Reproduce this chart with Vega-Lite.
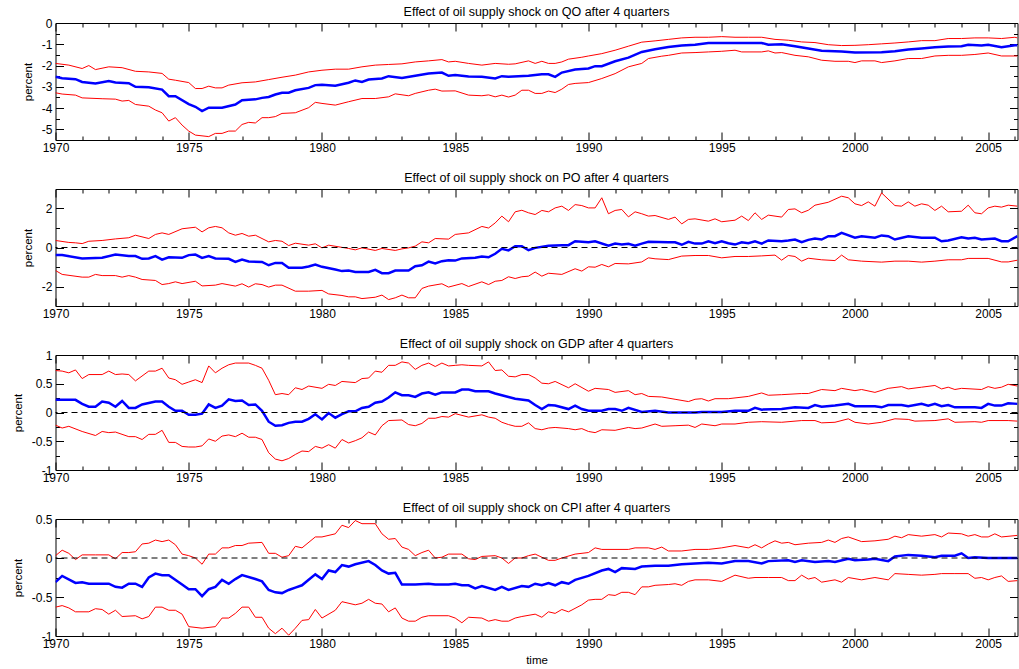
{
"$schema":"https://vega.github.io/schema/vega-lite/v6.json",
"background":"white",
"padding":{"left":11.5,"top":5,"right":0,"bottom":0},
"config":{
 "font":"Liberation Sans",
 "view":{"stroke":"black","strokeWidth":1},
 "axis":{"grid":false,"domain":false,"labelFont":"Liberation Sans","labelFontSize":12,"labelColor":"black","titleFont":"Liberation Sans","titleFontSize":11.5,"titleFontWeight":"normal","titleColor":"black","tickColor":"black","tickWidth":1,"labelOverlap":false,"labelFlush":false},
 "title":{"font":"Liberation Sans","fontSize":12.5,"fontWeight":"normal","color":"black","offset":-1}
},
"spacing":49,
"bounds":"flush",
"data":{"values":[
{"p":"QO","s":"h","t":1970,"v":-1.9},{"p":"QO","s":"h","t":1970.5,"v":-1.98},{"p":"QO","s":"h","t":1971,"v":-2.14},{"p":"QO","s":"h","t":1971.25,"v":-2.0},{"p":"QO","s":"h","t":1971.5,"v":-2.19},{"p":"QO","s":"h","t":1972,"v":-2.06},{"p":"QO","s":"h","t":1972.5,"v":-2.1},{"p":"QO","s":"h","t":1973,"v":-2.27},{"p":"QO","s":"h","t":1973.5,"v":-2.3},{"p":"QO","s":"h","t":1974,"v":-2.37},{"p":"QO","s":"h","t":1974.25,"v":-2.64},{"p":"QO","s":"h","t":1974.5,"v":-2.69},{"p":"QO","s":"h","t":1975,"v":-2.8},{"p":"QO","s":"h","t":1975.25,"v":-3.08},{"p":"QO","s":"h","t":1975.5,"v":-3.08},{"p":"QO","s":"h","t":1975.75,"v":-2.97},{"p":"QO","s":"h","t":1976,"v":-3.05},{"p":"QO","s":"h","t":1976.25,"v":-3.05},{"p":"QO","s":"h","t":1976.5,"v":-2.92},{"p":"QO","s":"h","t":1977,"v":-2.81},{"p":"QO","s":"h","t":1977.5,"v":-2.77},{"p":"QO","s":"h","t":1978,"v":-2.66},{"p":"QO","s":"h","t":1978.5,"v":-2.55},{"p":"QO","s":"h","t":1979,"v":-2.45},{"p":"QO","s":"h","t":1979.5,"v":-2.3},{"p":"QO","s":"h","t":1980,"v":-2.22},{"p":"QO","s":"h","t":1980.5,"v":-2.17},{"p":"QO","s":"h","t":1981,"v":-2.17},{"p":"QO","s":"h","t":1981.5,"v":-2.06},{"p":"QO","s":"h","t":1982,"v":-1.98},{"p":"QO","s":"h","t":1982.5,"v":-1.95},{"p":"QO","s":"h","t":1983,"v":-1.92},{"p":"QO","s":"h","t":1983.5,"v":-1.83},{"p":"QO","s":"h","t":1984,"v":-1.78},{"p":"QO","s":"h","t":1984.5,"v":-1.72},{"p":"QO","s":"h","t":1984.75,"v":-1.83},{"p":"QO","s":"h","t":1985,"v":-1.8},{"p":"QO","s":"h","t":1985.5,"v":-1.9},{"p":"QO","s":"h","t":1986,"v":-1.98},{"p":"QO","s":"h","t":1986.5,"v":-1.9},{"p":"QO","s":"h","t":1987,"v":-1.94},{"p":"QO","s":"h","t":1987.25,"v":-1.92},{"p":"QO","s":"h","t":1987.75,"v":-1.78},{"p":"QO","s":"h","t":1988,"v":-1.9},{"p":"QO","s":"h","t":1988.25,"v":-1.8},{"p":"QO","s":"h","t":1988.5,"v":-1.9},{"p":"QO","s":"h","t":1988.75,"v":-1.9},{"p":"QO","s":"h","t":1989,"v":-1.83},{"p":"QO","s":"h","t":1989.25,"v":-1.7},{"p":"QO","s":"h","t":1989.75,"v":-1.61},{"p":"QO","s":"h","t":1990,"v":-1.55},{"p":"QO","s":"h","t":1990.5,"v":-1.44},{"p":"QO","s":"h","t":1991,"v":-1.28},{"p":"QO","s":"h","t":1991.5,"v":-1.09},{"p":"QO","s":"h","t":1992,"v":-0.9},{"p":"QO","s":"h","t":1992.5,"v":-0.84},{"p":"QO","s":"h","t":1993,"v":-0.77},{"p":"QO","s":"h","t":1993.5,"v":-0.7},{"p":"QO","s":"h","t":1994,"v":-0.67},{"p":"QO","s":"h","t":1994.5,"v":-0.67},{"p":"QO","s":"h","t":1995,"v":-0.64},{"p":"QO","s":"h","t":1995.5,"v":-0.67},{"p":"QO","s":"h","t":1996,"v":-0.67},{"p":"QO","s":"h","t":1996.5,"v":-0.67},{"p":"QO","s":"h","t":1997,"v":-0.77},{"p":"QO","s":"h","t":1997.5,"v":-0.81},{"p":"QO","s":"h","t":1998,"v":-0.89},{"p":"QO","s":"h","t":1998.5,"v":-0.92},{"p":"QO","s":"h","t":1999,"v":-1.02},{"p":"QO","s":"h","t":1999.5,"v":-1.06},{"p":"QO","s":"h","t":2000,"v":-1.05},{"p":"QO","s":"h","t":2000.5,"v":-1.02},{"p":"QO","s":"h","t":2001,"v":-0.98},{"p":"QO","s":"h","t":2001.5,"v":-0.94},{"p":"QO","s":"h","t":2002,"v":-0.89},{"p":"QO","s":"h","t":2002.5,"v":-0.83},{"p":"QO","s":"h","t":2003,"v":-0.83},{"p":"QO","s":"h","t":2003.5,"v":-0.73},{"p":"QO","s":"h","t":2004,"v":-0.73},{"p":"QO","s":"h","t":2004.5,"v":-0.7},{"p":"QO","s":"h","t":2005,"v":-0.7},{"p":"QO","s":"h","t":2005.5,"v":-0.73},{"p":"QO","s":"h","t":2006,"v":-0.67},{"p":"QO","s":"h","t":2006.1,"v":-0.7},
{"p":"QO","s":"m","t":1970,"v":-2.53},{"p":"QO","s":"m","t":1970.25,"v":-2.6},{"p":"QO","s":"m","t":1970.75,"v":-2.64},{"p":"QO","s":"m","t":1971,"v":-2.77},{"p":"QO","s":"m","t":1971.5,"v":-2.84},{"p":"QO","s":"m","t":1972,"v":-2.73},{"p":"QO","s":"m","t":1972.25,"v":-2.8},{"p":"QO","s":"m","t":1972.75,"v":-2.83},{"p":"QO","s":"m","t":1973,"v":-3.0},{"p":"QO","s":"m","t":1973.5,"v":-3.02},{"p":"QO","s":"m","t":1974,"v":-3.13},{"p":"QO","s":"m","t":1974.25,"v":-3.44},{"p":"QO","s":"m","t":1974.5,"v":-3.44},{"p":"QO","s":"m","t":1975,"v":-3.81},{"p":"QO","s":"m","t":1975.25,"v":-3.94},{"p":"QO","s":"m","t":1975.5,"v":-4.14},{"p":"QO","s":"m","t":1975.75,"v":-3.98},{"p":"QO","s":"m","t":1976.25,"v":-3.98},{"p":"QO","s":"m","t":1976.75,"v":-3.83},{"p":"QO","s":"m","t":1977,"v":-3.63},{"p":"QO","s":"m","t":1977.5,"v":-3.59},{"p":"QO","s":"m","t":1977.75,"v":-3.52},{"p":"QO","s":"m","t":1978,"v":-3.48},{"p":"QO","s":"m","t":1978.25,"v":-3.36},{"p":"QO","s":"m","t":1978.5,"v":-3.28},{"p":"QO","s":"m","t":1978.75,"v":-3.28},{"p":"QO","s":"m","t":1979,"v":-3.16},{"p":"QO","s":"m","t":1979.5,"v":-3.05},{"p":"QO","s":"m","t":1979.75,"v":-2.92},{"p":"QO","s":"m","t":1980,"v":-2.9},{"p":"QO","s":"m","t":1980.5,"v":-2.95},{"p":"QO","s":"m","t":1981,"v":-2.81},{"p":"QO","s":"m","t":1981.25,"v":-2.7},{"p":"QO","s":"m","t":1981.5,"v":-2.77},{"p":"QO","s":"m","t":1981.75,"v":-2.66},{"p":"QO","s":"m","t":1982.25,"v":-2.61},{"p":"QO","s":"m","t":1982.5,"v":-2.5},{"p":"QO","s":"m","t":1983,"v":-2.58},{"p":"QO","s":"m","t":1983.5,"v":-2.48},{"p":"QO","s":"m","t":1984,"v":-2.37},{"p":"QO","s":"m","t":1984.5,"v":-2.33},{"p":"QO","s":"m","t":1984.75,"v":-2.48},{"p":"QO","s":"m","t":1985,"v":-2.45},{"p":"QO","s":"m","t":1985.5,"v":-2.52},{"p":"QO","s":"m","t":1986,"v":-2.53},{"p":"QO","s":"m","t":1986.5,"v":-2.61},{"p":"QO","s":"m","t":1986.75,"v":-2.5},{"p":"QO","s":"m","t":1987,"v":-2.53},{"p":"QO","s":"m","t":1987.75,"v":-2.48},{"p":"QO","s":"m","t":1988.25,"v":-2.41},{"p":"QO","s":"m","t":1988.5,"v":-2.41},{"p":"QO","s":"m","t":1988.75,"v":-2.53},{"p":"QO","s":"m","t":1989,"v":-2.33},{"p":"QO","s":"m","t":1989.5,"v":-2.19},{"p":"QO","s":"m","t":1990,"v":-2.14},{"p":"QO","s":"m","t":1990.25,"v":-2.03},{"p":"QO","s":"m","t":1990.5,"v":-2.03},{"p":"QO","s":"m","t":1991,"v":-1.8},{"p":"QO","s":"m","t":1991.5,"v":-1.63},{"p":"QO","s":"m","t":1992,"v":-1.36},{"p":"QO","s":"m","t":1992.5,"v":-1.23},{"p":"QO","s":"m","t":1993,"v":-1.13},{"p":"QO","s":"m","t":1993.5,"v":-1.06},{"p":"QO","s":"m","t":1994,"v":-1.02},{"p":"QO","s":"m","t":1994.5,"v":-0.94},{"p":"QO","s":"m","t":1995,"v":-0.94},{"p":"QO","s":"m","t":1996,"v":-0.94},{"p":"QO","s":"m","t":1996.5,"v":-0.94},{"p":"QO","s":"m","t":1996.75,"v":-1.02},{"p":"QO","s":"m","t":1997.25,"v":-1.0},{"p":"QO","s":"m","t":1997.75,"v":-1.09},{"p":"QO","s":"m","t":1998.25,"v":-1.2},{"p":"QO","s":"m","t":1998.75,"v":-1.3},{"p":"QO","s":"m","t":1999.5,"v":-1.34},{"p":"QO","s":"m","t":2000,"v":-1.39},{"p":"QO","s":"m","t":2001,"v":-1.38},{"p":"QO","s":"m","t":2001.5,"v":-1.33},{"p":"QO","s":"m","t":2002,"v":-1.25},{"p":"QO","s":"m","t":2002.5,"v":-1.2},{"p":"QO","s":"m","t":2003,"v":-1.14},{"p":"QO","s":"m","t":2003.5,"v":-1.11},{"p":"QO","s":"m","t":2004,"v":-1.09},{"p":"QO","s":"m","t":2004.25,"v":-1.02},{"p":"QO","s":"m","t":2004.75,"v":-1.06},{"p":"QO","s":"m","t":2005,"v":-1.02},{"p":"QO","s":"m","t":2005.5,"v":-1.14},{"p":"QO","s":"m","t":2006,"v":-1.05},{"p":"QO","s":"m","t":2006.1,"v":-1.05},
{"p":"QO","s":"l","t":1970,"v":-3.28},{"p":"QO","s":"l","t":1970.25,"v":-3.34},{"p":"QO","s":"l","t":1970.75,"v":-3.39},{"p":"QO","s":"l","t":1971,"v":-3.52},{"p":"QO","s":"l","t":1971.75,"v":-3.56},{"p":"QO","s":"l","t":1972.25,"v":-3.58},{"p":"QO","s":"l","t":1972.5,"v":-3.67},{"p":"QO","s":"l","t":1972.75,"v":-3.64},{"p":"QO","s":"l","t":1973,"v":-3.83},{"p":"QO","s":"l","t":1973.5,"v":-3.91},{"p":"QO","s":"l","t":1973.75,"v":-4.09},{"p":"QO","s":"l","t":1974,"v":-4.22},{"p":"QO","s":"l","t":1974.25,"v":-4.61},{"p":"QO","s":"l","t":1974.5,"v":-4.45},{"p":"QO","s":"l","t":1974.75,"v":-4.8},{"p":"QO","s":"l","t":1975,"v":-5.08},{"p":"QO","s":"l","t":1975.25,"v":-5.27},{"p":"QO","s":"l","t":1975.75,"v":-5.34},{"p":"QO","s":"l","t":1976,"v":-5.19},{"p":"QO","s":"l","t":1976.25,"v":-5.19},{"p":"QO","s":"l","t":1976.5,"v":-5.08},{"p":"QO","s":"l","t":1976.75,"v":-5.08},{"p":"QO","s":"l","t":1977,"v":-4.77},{"p":"QO","s":"l","t":1977.25,"v":-4.67},{"p":"QO","s":"l","t":1977.5,"v":-4.7},{"p":"QO","s":"l","t":1977.75,"v":-4.45},{"p":"QO","s":"l","t":1978,"v":-4.45},{"p":"QO","s":"l","t":1978.25,"v":-4.4},{"p":"QO","s":"l","t":1978.5,"v":-4.25},{"p":"QO","s":"l","t":1979,"v":-4.22},{"p":"QO","s":"l","t":1979.5,"v":-3.98},{"p":"QO","s":"l","t":1979.75,"v":-3.73},{"p":"QO","s":"l","t":1980,"v":-3.78},{"p":"QO","s":"l","t":1980.5,"v":-3.86},{"p":"QO","s":"l","t":1981,"v":-3.7},{"p":"QO","s":"l","t":1981.5,"v":-3.55},{"p":"QO","s":"l","t":1982,"v":-3.55},{"p":"QO","s":"l","t":1982.5,"v":-3.47},{"p":"QO","s":"l","t":1982.75,"v":-3.33},{"p":"QO","s":"l","t":1983.25,"v":-3.42},{"p":"QO","s":"l","t":1983.5,"v":-3.31},{"p":"QO","s":"l","t":1984,"v":-3.16},{"p":"QO","s":"l","t":1984.25,"v":-3.11},{"p":"QO","s":"l","t":1984.5,"v":-3.2},{"p":"QO","s":"l","t":1985,"v":-3.19},{"p":"QO","s":"l","t":1985.5,"v":-3.39},{"p":"QO","s":"l","t":1986,"v":-3.42},{"p":"QO","s":"l","t":1986.25,"v":-3.38},{"p":"QO","s":"l","t":1986.5,"v":-3.47},{"p":"QO","s":"l","t":1986.75,"v":-3.39},{"p":"QO","s":"l","t":1987,"v":-3.48},{"p":"QO","s":"l","t":1987.25,"v":-3.39},{"p":"QO","s":"l","t":1987.5,"v":-3.16},{"p":"QO","s":"l","t":1987.75,"v":-3.16},{"p":"QO","s":"l","t":1988,"v":-3.31},{"p":"QO","s":"l","t":1988.25,"v":-3.31},{"p":"QO","s":"l","t":1988.5,"v":-3.2},{"p":"QO","s":"l","t":1988.75,"v":-3.27},{"p":"QO","s":"l","t":1989,"v":-3.11},{"p":"QO","s":"l","t":1989.25,"v":-2.89},{"p":"QO","s":"l","t":1989.5,"v":-2.84},{"p":"QO","s":"l","t":1990,"v":-2.8},{"p":"QO","s":"l","t":1990.5,"v":-2.61},{"p":"QO","s":"l","t":1991,"v":-2.38},{"p":"QO","s":"l","t":1991.5,"v":-2.06},{"p":"QO","s":"l","t":1992,"v":-1.9},{"p":"QO","s":"l","t":1992.25,"v":-1.67},{"p":"QO","s":"l","t":1992.75,"v":-1.56},{"p":"QO","s":"l","t":1993,"v":-1.52},{"p":"QO","s":"l","t":1993.5,"v":-1.41},{"p":"QO","s":"l","t":1994,"v":-1.39},{"p":"QO","s":"l","t":1994.5,"v":-1.36},{"p":"QO","s":"l","t":1995,"v":-1.33},{"p":"QO","s":"l","t":1995.5,"v":-1.28},{"p":"QO","s":"l","t":1995.75,"v":-1.36},{"p":"QO","s":"l","t":1996.5,"v":-1.36},{"p":"QO","s":"l","t":1996.75,"v":-1.31},{"p":"QO","s":"l","t":1997,"v":-1.41},{"p":"QO","s":"l","t":1997.25,"v":-1.39},{"p":"QO","s":"l","t":1997.75,"v":-1.52},{"p":"QO","s":"l","t":1998.25,"v":-1.59},{"p":"QO","s":"l","t":1998.75,"v":-1.75},{"p":"QO","s":"l","t":1999.25,"v":-1.8},{"p":"QO","s":"l","t":1999.75,"v":-1.8},{"p":"QO","s":"l","t":2000,"v":-1.86},{"p":"QO","s":"l","t":2000.25,"v":-1.78},{"p":"QO","s":"l","t":2000.75,"v":-1.78},{"p":"QO","s":"l","t":2001,"v":-1.86},{"p":"QO","s":"l","t":2001.5,"v":-1.78},{"p":"QO","s":"l","t":2002,"v":-1.67},{"p":"QO","s":"l","t":2002.5,"v":-1.67},{"p":"QO","s":"l","t":2003,"v":-1.55},{"p":"QO","s":"l","t":2003.5,"v":-1.52},{"p":"QO","s":"l","t":2004,"v":-1.52},{"p":"QO","s":"l","t":2004.5,"v":-1.48},{"p":"QO","s":"l","t":2005,"v":-1.41},{"p":"QO","s":"l","t":2005.5,"v":-1.55},{"p":"QO","s":"l","t":2006,"v":-1.55},{"p":"QO","s":"l","t":2006.1,"v":-1.55},
{"p":"PO","s":"h","t":1970,"v":0.36},{"p":"PO","s":"h","t":1970.5,"v":0.26},{"p":"PO","s":"h","t":1970.75,"v":0.24},{"p":"PO","s":"h","t":1971,"v":0.2},{"p":"PO","s":"h","t":1971.25,"v":0.32},{"p":"PO","s":"h","t":1971.75,"v":0.36},{"p":"PO","s":"h","t":1972.25,"v":0.44},{"p":"PO","s":"h","t":1972.75,"v":0.5},{"p":"PO","s":"h","t":1973,"v":0.63},{"p":"PO","s":"h","t":1973.5,"v":0.46},{"p":"PO","s":"h","t":1973.75,"v":0.67},{"p":"PO","s":"h","t":1974,"v":0.75},{"p":"PO","s":"h","t":1974.25,"v":0.67},{"p":"PO","s":"h","t":1974.75,"v":0.96},{"p":"PO","s":"h","t":1975.25,"v":1.04},{"p":"PO","s":"h","t":1975.5,"v":0.8},{"p":"PO","s":"h","t":1975.75,"v":1.01},{"p":"PO","s":"h","t":1976,"v":1.08},{"p":"PO","s":"h","t":1976.25,"v":1.01},{"p":"PO","s":"h","t":1976.5,"v":0.75},{"p":"PO","s":"h","t":1976.75,"v":0.63},{"p":"PO","s":"h","t":1977,"v":0.72},{"p":"PO","s":"h","t":1977.25,"v":0.58},{"p":"PO","s":"h","t":1977.5,"v":0.63},{"p":"PO","s":"h","t":1978,"v":0.29},{"p":"PO","s":"h","t":1978.25,"v":0.36},{"p":"PO","s":"h","t":1978.5,"v":0.32},{"p":"PO","s":"h","t":1978.75,"v":0.1},{"p":"PO","s":"h","t":1979,"v":0.22},{"p":"PO","s":"h","t":1979.5,"v":0.12},{"p":"PO","s":"h","t":1979.75,"v":0.19},{"p":"PO","s":"h","t":1980,"v":-0.02},{"p":"PO","s":"h","t":1980.25,"v":0.12},{"p":"PO","s":"h","t":1981,"v":-0.05},{"p":"PO","s":"h","t":1981.25,"v":-0.12},{"p":"PO","s":"h","t":1981.5,"v":-0.02},{"p":"PO","s":"h","t":1982,"v":-0.15},{"p":"PO","s":"h","t":1982.25,"v":-0.05},{"p":"PO","s":"h","t":1982.75,"v":-0.15},{"p":"PO","s":"h","t":1983,"v":-0.07},{"p":"PO","s":"h","t":1983.25,"v":-0.02},{"p":"PO","s":"h","t":1983.5,"v":0.07},{"p":"PO","s":"h","t":1983.75,"v":0.29},{"p":"PO","s":"h","t":1984,"v":0.24},{"p":"PO","s":"h","t":1984.25,"v":0.46},{"p":"PO","s":"h","t":1984.75,"v":0.43},{"p":"PO","s":"h","t":1985,"v":0.67},{"p":"PO","s":"h","t":1985.5,"v":0.75},{"p":"PO","s":"h","t":1986,"v":1.08},{"p":"PO","s":"h","t":1986.25,"v":1.0},{"p":"PO","s":"h","t":1986.5,"v":1.26},{"p":"PO","s":"h","t":1986.75,"v":1.61},{"p":"PO","s":"h","t":1987,"v":1.32},{"p":"PO","s":"h","t":1987.25,"v":1.83},{"p":"PO","s":"h","t":1987.5,"v":1.91},{"p":"PO","s":"h","t":1987.75,"v":1.78},{"p":"PO","s":"h","t":1988,"v":1.69},{"p":"PO","s":"h","t":1988.25,"v":1.9},{"p":"PO","s":"h","t":1988.5,"v":1.83},{"p":"PO","s":"h","t":1988.75,"v":2.03},{"p":"PO","s":"h","t":1989,"v":2.12},{"p":"PO","s":"h","t":1989.25,"v":1.9},{"p":"PO","s":"h","t":1989.5,"v":2.2},{"p":"PO","s":"h","t":1989.75,"v":2.15},{"p":"PO","s":"h","t":1990,"v":2.03},{"p":"PO","s":"h","t":1990.25,"v":2.03},{"p":"PO","s":"h","t":1990.5,"v":2.55},{"p":"PO","s":"h","t":1990.75,"v":1.73},{"p":"PO","s":"h","t":1991,"v":1.9},{"p":"PO","s":"h","t":1991.25,"v":1.95},{"p":"PO","s":"h","t":1991.5,"v":1.57},{"p":"PO","s":"h","t":1991.75,"v":1.83},{"p":"PO","s":"h","t":1992,"v":1.73},{"p":"PO","s":"h","t":1992.25,"v":1.61},{"p":"PO","s":"h","t":1992.5,"v":1.64},{"p":"PO","s":"h","t":1993,"v":1.44},{"p":"PO","s":"h","t":1993.25,"v":1.56},{"p":"PO","s":"h","t":1993.5,"v":1.21},{"p":"PO","s":"h","t":1993.75,"v":1.44},{"p":"PO","s":"h","t":1994,"v":1.47},{"p":"PO","s":"h","t":1994.5,"v":1.35},{"p":"PO","s":"h","t":1994.75,"v":1.47},{"p":"PO","s":"h","t":1995,"v":1.32},{"p":"PO","s":"h","t":1995.5,"v":1.4},{"p":"PO","s":"h","t":1995.75,"v":1.61},{"p":"PO","s":"h","t":1996,"v":1.38},{"p":"PO","s":"h","t":1996.25,"v":1.78},{"p":"PO","s":"h","t":1996.5,"v":1.44},{"p":"PO","s":"h","t":1996.75,"v":1.66},{"p":"PO","s":"h","t":1997.25,"v":1.56},{"p":"PO","s":"h","t":1997.5,"v":1.95},{"p":"PO","s":"h","t":1997.75,"v":1.98},{"p":"PO","s":"h","t":1998,"v":1.78},{"p":"PO","s":"h","t":1998.25,"v":1.91},{"p":"PO","s":"h","t":1998.5,"v":2.17},{"p":"PO","s":"h","t":1999,"v":2.32},{"p":"PO","s":"h","t":1999.5,"v":2.63},{"p":"PO","s":"h","t":1999.75,"v":2.55},{"p":"PO","s":"h","t":2000,"v":2.24},{"p":"PO","s":"h","t":2000.25,"v":2.15},{"p":"PO","s":"h","t":2000.5,"v":2.34},{"p":"PO","s":"h","t":2000.75,"v":2.12},{"p":"PO","s":"h","t":2001,"v":2.8},{"p":"PO","s":"h","t":2001.5,"v":2.15},{"p":"PO","s":"h","t":2001.75,"v":2.12},{"p":"PO","s":"h","t":2002,"v":2.34},{"p":"PO","s":"h","t":2002.25,"v":2.12},{"p":"PO","s":"h","t":2002.5,"v":2.24},{"p":"PO","s":"h","t":2002.75,"v":2.17},{"p":"PO","s":"h","t":2003,"v":1.9},{"p":"PO","s":"h","t":2003.25,"v":2.12},{"p":"PO","s":"h","t":2003.5,"v":1.83},{"p":"PO","s":"h","t":2004,"v":1.86},{"p":"PO","s":"h","t":2004.25,"v":2.17},{"p":"PO","s":"h","t":2004.5,"v":1.78},{"p":"PO","s":"h","t":2004.75,"v":1.73},{"p":"PO","s":"h","t":2005,"v":2.03},{"p":"PO","s":"h","t":2005.25,"v":2.12},{"p":"PO","s":"h","t":2005.5,"v":2.07},{"p":"PO","s":"h","t":2005.75,"v":2.17},{"p":"PO","s":"h","t":2006.1,"v":2.12},
{"p":"PO","s":"m","t":1970,"v":-0.39},{"p":"PO","s":"m","t":1970.25,"v":-0.39},{"p":"PO","s":"m","t":1971,"v":-0.56},{"p":"PO","s":"m","t":1971.75,"v":-0.53},{"p":"PO","s":"m","t":1972.25,"v":-0.36},{"p":"PO","s":"m","t":1972.75,"v":-0.43},{"p":"PO","s":"m","t":1973,"v":-0.44},{"p":"PO","s":"m","t":1973.25,"v":-0.58},{"p":"PO","s":"m","t":1973.5,"v":-0.56},{"p":"PO","s":"m","t":1973.75,"v":-0.44},{"p":"PO","s":"m","t":1974,"v":-0.62},{"p":"PO","s":"m","t":1974.25,"v":-0.5},{"p":"PO","s":"m","t":1974.75,"v":-0.53},{"p":"PO","s":"m","t":1975,"v":-0.39},{"p":"PO","s":"m","t":1975.25,"v":-0.36},{"p":"PO","s":"m","t":1975.5,"v":-0.53},{"p":"PO","s":"m","t":1975.75,"v":-0.44},{"p":"PO","s":"m","t":1976,"v":-0.56},{"p":"PO","s":"m","t":1976.5,"v":-0.58},{"p":"PO","s":"m","t":1976.75,"v":-0.74},{"p":"PO","s":"m","t":1977,"v":-0.62},{"p":"PO","s":"m","t":1977.25,"v":-0.72},{"p":"PO","s":"m","t":1977.75,"v":-0.74},{"p":"PO","s":"m","t":1978,"v":-0.91},{"p":"PO","s":"m","t":1978.25,"v":-0.79},{"p":"PO","s":"m","t":1978.5,"v":-0.8},{"p":"PO","s":"m","t":1978.75,"v":-1.04},{"p":"PO","s":"m","t":1979.25,"v":-1.04},{"p":"PO","s":"m","t":1979.5,"v":-0.97},{"p":"PO","s":"m","t":1979.75,"v":-0.87},{"p":"PO","s":"m","t":1980,"v":-0.99},{"p":"PO","s":"m","t":1980.5,"v":-1.13},{"p":"PO","s":"m","t":1980.75,"v":-1.21},{"p":"PO","s":"m","t":1981,"v":-1.18},{"p":"PO","s":"m","t":1981.25,"v":-1.25},{"p":"PO","s":"m","t":1981.75,"v":-1.25},{"p":"PO","s":"m","t":1982,"v":-1.15},{"p":"PO","s":"m","t":1982.25,"v":-1.32},{"p":"PO","s":"m","t":1982.5,"v":-1.32},{"p":"PO","s":"m","t":1982.75,"v":-1.18},{"p":"PO","s":"m","t":1983.25,"v":-1.18},{"p":"PO","s":"m","t":1983.5,"v":-0.96},{"p":"PO","s":"m","t":1983.75,"v":-0.91},{"p":"PO","s":"m","t":1984,"v":-0.72},{"p":"PO","s":"m","t":1984.25,"v":-0.82},{"p":"PO","s":"m","t":1984.5,"v":-0.7},{"p":"PO","s":"m","t":1984.75,"v":-0.65},{"p":"PO","s":"m","t":1985,"v":-0.67},{"p":"PO","s":"m","t":1985.25,"v":-0.56},{"p":"PO","s":"m","t":1985.75,"v":-0.53},{"p":"PO","s":"m","t":1986,"v":-0.46},{"p":"PO","s":"m","t":1986.25,"v":-0.5},{"p":"PO","s":"m","t":1986.5,"v":-0.32},{"p":"PO","s":"m","t":1986.75,"v":-0.07},{"p":"PO","s":"m","t":1987,"v":-0.15},{"p":"PO","s":"m","t":1987.25,"v":0.07},{"p":"PO","s":"m","t":1987.5,"v":0.07},{"p":"PO","s":"m","t":1987.75,"v":-0.14},{"p":"PO","s":"m","t":1988,"v":-0.02},{"p":"PO","s":"m","t":1988.5,"v":0.09},{"p":"PO","s":"m","t":1989,"v":0.12},{"p":"PO","s":"m","t":1989.25,"v":0.12},{"p":"PO","s":"m","t":1989.5,"v":0.32},{"p":"PO","s":"m","t":1990,"v":0.27},{"p":"PO","s":"m","t":1990.25,"v":0.32},{"p":"PO","s":"m","t":1990.75,"v":0.09},{"p":"PO","s":"m","t":1991,"v":0.2},{"p":"PO","s":"m","t":1991.25,"v":0.15},{"p":"PO","s":"m","t":1991.5,"v":0.19},{"p":"PO","s":"m","t":1991.75,"v":0.09},{"p":"PO","s":"m","t":1992,"v":0.2},{"p":"PO","s":"m","t":1992.25,"v":0.29},{"p":"PO","s":"m","t":1993,"v":0.27},{"p":"PO","s":"m","t":1993.25,"v":0.27},{"p":"PO","s":"m","t":1993.5,"v":0.14},{"p":"PO","s":"m","t":1993.75,"v":0.29},{"p":"PO","s":"m","t":1994,"v":0.2},{"p":"PO","s":"m","t":1994.25,"v":0.2},{"p":"PO","s":"m","t":1994.5,"v":0.32},{"p":"PO","s":"m","t":1994.75,"v":0.22},{"p":"PO","s":"m","t":1995,"v":0.32},{"p":"PO","s":"m","t":1995.25,"v":0.22},{"p":"PO","s":"m","t":1995.5,"v":0.15},{"p":"PO","s":"m","t":1995.75,"v":0.27},{"p":"PO","s":"m","t":1996,"v":0.22},{"p":"PO","s":"m","t":1996.25,"v":0.32},{"p":"PO","s":"m","t":1996.5,"v":0.2},{"p":"PO","s":"m","t":1996.75,"v":0.36},{"p":"PO","s":"m","t":1997.25,"v":0.32},{"p":"PO","s":"m","t":1997.5,"v":0.36},{"p":"PO","s":"m","t":1997.75,"v":0.41},{"p":"PO","s":"m","t":1998,"v":0.27},{"p":"PO","s":"m","t":1998.25,"v":0.39},{"p":"PO","s":"m","t":1998.5,"v":0.46},{"p":"PO","s":"m","t":1998.75,"v":0.41},{"p":"PO","s":"m","t":1999,"v":0.58},{"p":"PO","s":"m","t":1999.25,"v":0.58},{"p":"PO","s":"m","t":1999.5,"v":0.75},{"p":"PO","s":"m","t":2000,"v":0.5},{"p":"PO","s":"m","t":2000.25,"v":0.58},{"p":"PO","s":"m","t":2000.75,"v":0.5},{"p":"PO","s":"m","t":2001,"v":0.62},{"p":"PO","s":"m","t":2001.25,"v":0.58},{"p":"PO","s":"m","t":2001.5,"v":0.41},{"p":"PO","s":"m","t":2002,"v":0.58},{"p":"PO","s":"m","t":2002.5,"v":0.5},{"p":"PO","s":"m","t":2003,"v":0.5},{"p":"PO","s":"m","t":2003.25,"v":0.32},{"p":"PO","s":"m","t":2003.5,"v":0.36},{"p":"PO","s":"m","t":2004,"v":0.53},{"p":"PO","s":"m","t":2004.25,"v":0.46},{"p":"PO","s":"m","t":2004.5,"v":0.5},{"p":"PO","s":"m","t":2004.75,"v":0.41},{"p":"PO","s":"m","t":2005.25,"v":0.46},{"p":"PO","s":"m","t":2005.5,"v":0.32},{"p":"PO","s":"m","t":2005.75,"v":0.32},{"p":"PO","s":"m","t":2006.1,"v":0.58},
{"p":"PO","s":"l","t":1970,"v":-1.18},{"p":"PO","s":"l","t":1970.25,"v":-1.38},{"p":"PO","s":"l","t":1971,"v":-1.52},{"p":"PO","s":"l","t":1971.25,"v":-1.52},{"p":"PO","s":"l","t":1971.5,"v":-1.38},{"p":"PO","s":"l","t":1971.75,"v":-1.44},{"p":"PO","s":"l","t":1972.25,"v":-1.44},{"p":"PO","s":"l","t":1972.5,"v":-1.52},{"p":"PO","s":"l","t":1972.75,"v":-1.44},{"p":"PO","s":"l","t":1973,"v":-1.52},{"p":"PO","s":"l","t":1973.25,"v":-1.64},{"p":"PO","s":"l","t":1973.75,"v":-1.69},{"p":"PO","s":"l","t":1974,"v":-1.9},{"p":"PO","s":"l","t":1974.25,"v":-1.85},{"p":"PO","s":"l","t":1974.5,"v":-1.76},{"p":"PO","s":"l","t":1974.75,"v":-1.85},{"p":"PO","s":"l","t":1975.25,"v":-1.73},{"p":"PO","s":"l","t":1975.5,"v":-1.97},{"p":"PO","s":"l","t":1976,"v":-1.93},{"p":"PO","s":"l","t":1976.25,"v":-1.85},{"p":"PO","s":"l","t":1976.75,"v":-1.98},{"p":"PO","s":"l","t":1977,"v":-1.86},{"p":"PO","s":"l","t":1977.25,"v":-2.03},{"p":"PO","s":"l","t":1977.5,"v":-1.86},{"p":"PO","s":"l","t":1977.75,"v":-1.9},{"p":"PO","s":"l","t":1978,"v":-2.03},{"p":"PO","s":"l","t":1978.25,"v":-1.93},{"p":"PO","s":"l","t":1978.5,"v":-1.93},{"p":"PO","s":"l","t":1979,"v":-2.24},{"p":"PO","s":"l","t":1979.5,"v":-2.24},{"p":"PO","s":"l","t":1980,"v":-2.2},{"p":"PO","s":"l","t":1980.25,"v":-2.38},{"p":"PO","s":"l","t":1980.75,"v":-2.46},{"p":"PO","s":"l","t":1981,"v":-2.53},{"p":"PO","s":"l","t":1981.25,"v":-2.53},{"p":"PO","s":"l","t":1981.5,"v":-2.62},{"p":"PO","s":"l","t":1982,"v":-2.55},{"p":"PO","s":"l","t":1982.25,"v":-2.44},{"p":"PO","s":"l","t":1982.5,"v":-2.67},{"p":"PO","s":"l","t":1982.75,"v":-2.58},{"p":"PO","s":"l","t":1983,"v":-2.44},{"p":"PO","s":"l","t":1983.25,"v":-2.58},{"p":"PO","s":"l","t":1983.5,"v":-2.58},{"p":"PO","s":"l","t":1983.75,"v":-2.1},{"p":"PO","s":"l","t":1984,"v":-1.98},{"p":"PO","s":"l","t":1984.5,"v":-1.86},{"p":"PO","s":"l","t":1984.75,"v":-2.03},{"p":"PO","s":"l","t":1985.25,"v":-1.85},{"p":"PO","s":"l","t":1985.5,"v":-2.0},{"p":"PO","s":"l","t":1986,"v":-1.76},{"p":"PO","s":"l","t":1986.25,"v":-1.9},{"p":"PO","s":"l","t":1986.5,"v":-1.73},{"p":"PO","s":"l","t":1986.75,"v":-1.69},{"p":"PO","s":"l","t":1987,"v":-1.5},{"p":"PO","s":"l","t":1987.25,"v":-1.59},{"p":"PO","s":"l","t":1987.5,"v":-1.5},{"p":"PO","s":"l","t":1987.75,"v":-1.47},{"p":"PO","s":"l","t":1988,"v":-1.26},{"p":"PO","s":"l","t":1988.25,"v":-1.47},{"p":"PO","s":"l","t":1988.5,"v":-1.32},{"p":"PO","s":"l","t":1989,"v":-1.38},{"p":"PO","s":"l","t":1989.5,"v":-1.09},{"p":"PO","s":"l","t":1989.75,"v":-1.21},{"p":"PO","s":"l","t":1990,"v":-0.99},{"p":"PO","s":"l","t":1990.25,"v":-1.01},{"p":"PO","s":"l","t":1990.5,"v":-0.87},{"p":"PO","s":"l","t":1990.75,"v":-0.99},{"p":"PO","s":"l","t":1991,"v":-0.82},{"p":"PO","s":"l","t":1991.5,"v":-0.84},{"p":"PO","s":"l","t":1992,"v":-0.74},{"p":"PO","s":"l","t":1992.25,"v":-0.53},{"p":"PO","s":"l","t":1992.5,"v":-0.58},{"p":"PO","s":"l","t":1993,"v":-0.62},{"p":"PO","s":"l","t":1993.5,"v":-0.44},{"p":"PO","s":"l","t":1994,"v":-0.41},{"p":"PO","s":"l","t":1994.5,"v":-0.41},{"p":"PO","s":"l","t":1995,"v":-0.53},{"p":"PO","s":"l","t":1995.5,"v":-0.46},{"p":"PO","s":"l","t":1996,"v":-0.46},{"p":"PO","s":"l","t":1996.5,"v":-0.43},{"p":"PO","s":"l","t":1997,"v":-0.39},{"p":"PO","s":"l","t":1997.25,"v":-0.65},{"p":"PO","s":"l","t":1997.5,"v":-0.41},{"p":"PO","s":"l","t":1997.75,"v":-0.46},{"p":"PO","s":"l","t":1998,"v":-0.7},{"p":"PO","s":"l","t":1998.25,"v":-0.55},{"p":"PO","s":"l","t":1998.75,"v":-0.63},{"p":"PO","s":"l","t":1999.25,"v":-0.67},{"p":"PO","s":"l","t":1999.5,"v":-0.39},{"p":"PO","s":"l","t":1999.75,"v":-0.63},{"p":"PO","s":"l","t":2000.25,"v":-0.7},{"p":"PO","s":"l","t":2001,"v":-0.75},{"p":"PO","s":"l","t":2001.5,"v":-0.7},{"p":"PO","s":"l","t":2002,"v":-0.7},{"p":"PO","s":"l","t":2002.5,"v":-0.75},{"p":"PO","s":"l","t":2003,"v":-0.7},{"p":"PO","s":"l","t":2003.5,"v":-0.63},{"p":"PO","s":"l","t":2004,"v":-0.63},{"p":"PO","s":"l","t":2004.25,"v":-0.56},{"p":"PO","s":"l","t":2005,"v":-0.56},{"p":"PO","s":"l","t":2005.5,"v":-0.74},{"p":"PO","s":"l","t":2005.75,"v":-0.74},{"p":"PO","s":"l","t":2006.1,"v":-0.65},
{"p":"GDP","s":"h","t":1970,"v":0.73},{"p":"GDP","s":"h","t":1970.25,"v":0.72},{"p":"GDP","s":"h","t":1970.5,"v":0.69},{"p":"GDP","s":"h","t":1970.75,"v":0.74},{"p":"GDP","s":"h","t":1971,"v":0.59},{"p":"GDP","s":"h","t":1971.25,"v":0.66},{"p":"GDP","s":"h","t":1971.75,"v":0.66},{"p":"GDP","s":"h","t":1972,"v":0.72},{"p":"GDP","s":"h","t":1972.25,"v":0.66},{"p":"GDP","s":"h","t":1972.5,"v":0.67},{"p":"GDP","s":"h","t":1972.75,"v":0.66},{"p":"GDP","s":"h","t":1973,"v":0.55},{"p":"GDP","s":"h","t":1973.5,"v":0.72},{"p":"GDP","s":"h","t":1973.75,"v":0.72},{"p":"GDP","s":"h","t":1974,"v":0.77},{"p":"GDP","s":"h","t":1974.25,"v":0.6},{"p":"GDP","s":"h","t":1974.5,"v":0.57},{"p":"GDP","s":"h","t":1974.75,"v":0.49},{"p":"GDP","s":"h","t":1975,"v":0.53},{"p":"GDP","s":"h","t":1975.25,"v":0.57},{"p":"GDP","s":"h","t":1975.5,"v":0.52},{"p":"GDP","s":"h","t":1975.75,"v":0.81},{"p":"GDP","s":"h","t":1976,"v":0.69},{"p":"GDP","s":"h","t":1976.25,"v":0.77},{"p":"GDP","s":"h","t":1976.5,"v":0.83},{"p":"GDP","s":"h","t":1976.75,"v":0.86},{"p":"GDP","s":"h","t":1977.25,"v":0.86},{"p":"GDP","s":"h","t":1977.5,"v":0.82},{"p":"GDP","s":"h","t":1977.75,"v":0.77},{"p":"GDP","s":"h","t":1978,"v":0.56},{"p":"GDP","s":"h","t":1978.25,"v":0.31},{"p":"GDP","s":"h","t":1978.5,"v":0.33},{"p":"GDP","s":"h","t":1978.75,"v":0.31},{"p":"GDP","s":"h","t":1979,"v":0.43},{"p":"GDP","s":"h","t":1979.25,"v":0.4},{"p":"GDP","s":"h","t":1979.5,"v":0.46},{"p":"GDP","s":"h","t":1980,"v":0.42},{"p":"GDP","s":"h","t":1980.25,"v":0.49},{"p":"GDP","s":"h","t":1980.5,"v":0.47},{"p":"GDP","s":"h","t":1980.75,"v":0.54},{"p":"GDP","s":"h","t":1981.25,"v":0.52},{"p":"GDP","s":"h","t":1981.5,"v":0.59},{"p":"GDP","s":"h","t":1981.75,"v":0.6},{"p":"GDP","s":"h","t":1982,"v":0.72},{"p":"GDP","s":"h","t":1982.25,"v":0.7},{"p":"GDP","s":"h","t":1982.5,"v":0.82},{"p":"GDP","s":"h","t":1982.75,"v":0.82},{"p":"GDP","s":"h","t":1983,"v":0.88},{"p":"GDP","s":"h","t":1983.25,"v":0.86},{"p":"GDP","s":"h","t":1983.5,"v":0.75},{"p":"GDP","s":"h","t":1983.75,"v":0.82},{"p":"GDP","s":"h","t":1984,"v":0.86},{"p":"GDP","s":"h","t":1984.25,"v":0.8},{"p":"GDP","s":"h","t":1984.5,"v":0.86},{"p":"GDP","s":"h","t":1984.75,"v":0.81},{"p":"GDP","s":"h","t":1985,"v":0.82},{"p":"GDP","s":"h","t":1985.25,"v":0.83},{"p":"GDP","s":"h","t":1985.5,"v":0.82},{"p":"GDP","s":"h","t":1986,"v":0.81},{"p":"GDP","s":"h","t":1986.25,"v":0.88},{"p":"GDP","s":"h","t":1986.5,"v":0.73},{"p":"GDP","s":"h","t":1986.75,"v":0.74},{"p":"GDP","s":"h","t":1987,"v":0.63},{"p":"GDP","s":"h","t":1987.25,"v":0.62},{"p":"GDP","s":"h","t":1987.5,"v":0.66},{"p":"GDP","s":"h","t":1987.75,"v":0.66},{"p":"GDP","s":"h","t":1988,"v":0.6},{"p":"GDP","s":"h","t":1988.25,"v":0.51},{"p":"GDP","s":"h","t":1988.5,"v":0.5},{"p":"GDP","s":"h","t":1988.75,"v":0.54},{"p":"GDP","s":"h","t":1989.25,"v":0.43},{"p":"GDP","s":"h","t":1989.5,"v":0.5},{"p":"GDP","s":"h","t":1990,"v":0.37},{"p":"GDP","s":"h","t":1990.25,"v":0.42},{"p":"GDP","s":"h","t":1990.75,"v":0.4},{"p":"GDP","s":"h","t":1991,"v":0.35},{"p":"GDP","s":"h","t":1991.5,"v":0.38},{"p":"GDP","s":"h","t":1991.75,"v":0.31},{"p":"GDP","s":"h","t":1992,"v":0.33},{"p":"GDP","s":"h","t":1992.25,"v":0.28},{"p":"GDP","s":"h","t":1992.75,"v":0.27},{"p":"GDP","s":"h","t":1993.25,"v":0.23},{"p":"GDP","s":"h","t":1993.75,"v":0.19},{"p":"GDP","s":"h","t":1994,"v":0.23},{"p":"GDP","s":"h","t":1994.25,"v":0.24},{"p":"GDP","s":"h","t":1994.5,"v":0.2},{"p":"GDP","s":"h","t":1994.75,"v":0.24},{"p":"GDP","s":"h","t":1995.25,"v":0.24},{"p":"GDP","s":"h","t":1996,"v":0.28},{"p":"GDP","s":"h","t":1996.5,"v":0.34},{"p":"GDP","s":"h","t":1996.75,"v":0.3},{"p":"GDP","s":"h","t":1997.25,"v":0.31},{"p":"GDP","s":"h","t":1998,"v":0.33},{"p":"GDP","s":"h","t":1998.25,"v":0.33},{"p":"GDP","s":"h","t":1998.75,"v":0.4},{"p":"GDP","s":"h","t":1999.25,"v":0.38},{"p":"GDP","s":"h","t":1999.5,"v":0.42},{"p":"GDP","s":"h","t":2000,"v":0.38},{"p":"GDP","s":"h","t":2000.25,"v":0.4},{"p":"GDP","s":"h","t":2000.75,"v":0.35},{"p":"GDP","s":"h","t":2001.25,"v":0.42},{"p":"GDP","s":"h","t":2001.75,"v":0.45},{"p":"GDP","s":"h","t":2002,"v":0.41},{"p":"GDP","s":"h","t":2002.5,"v":0.44},{"p":"GDP","s":"h","t":2003,"v":0.47},{"p":"GDP","s":"h","t":2003.25,"v":0.41},{"p":"GDP","s":"h","t":2003.5,"v":0.44},{"p":"GDP","s":"h","t":2003.75,"v":0.4},{"p":"GDP","s":"h","t":2004,"v":0.42},{"p":"GDP","s":"h","t":2004.75,"v":0.4},{"p":"GDP","s":"h","t":2005,"v":0.45},{"p":"GDP","s":"h","t":2005.25,"v":0.42},{"p":"GDP","s":"h","t":2005.5,"v":0.44},{"p":"GDP","s":"h","t":2005.75,"v":0.49},{"p":"GDP","s":"h","t":2006.1,"v":0.46},
{"p":"GDP","s":"m","t":1970,"v":0.22},{"p":"GDP","s":"m","t":1970.75,"v":0.22},{"p":"GDP","s":"m","t":1971,"v":0.15},{"p":"GDP","s":"m","t":1971.25,"v":0.1},{"p":"GDP","s":"m","t":1971.5,"v":0.1},{"p":"GDP","s":"m","t":1971.75,"v":0.19},{"p":"GDP","s":"m","t":1972,"v":0.17},{"p":"GDP","s":"m","t":1972.25,"v":0.1},{"p":"GDP","s":"m","t":1972.5,"v":0.2},{"p":"GDP","s":"m","t":1972.75,"v":0.08},{"p":"GDP","s":"m","t":1973,"v":0.08},{"p":"GDP","s":"m","t":1973.25,"v":0.14},{"p":"GDP","s":"m","t":1973.75,"v":0.19},{"p":"GDP","s":"m","t":1974,"v":0.19},{"p":"GDP","s":"m","t":1974.25,"v":0.1},{"p":"GDP","s":"m","t":1974.5,"v":0.03},{"p":"GDP","s":"m","t":1974.75,"v":0.03},{"p":"GDP","s":"m","t":1975,"v":-0.04},{"p":"GDP","s":"m","t":1975.25,"v":-0.04},{"p":"GDP","s":"m","t":1975.5,"v":-0.02},{"p":"GDP","s":"m","t":1975.75,"v":0.14},{"p":"GDP","s":"m","t":1976,"v":0.08},{"p":"GDP","s":"m","t":1976.25,"v":0.12},{"p":"GDP","s":"m","t":1976.5,"v":0.23},{"p":"GDP","s":"m","t":1976.75,"v":0.2},{"p":"GDP","s":"m","t":1977,"v":0.21},{"p":"GDP","s":"m","t":1977.25,"v":0.13},{"p":"GDP","s":"m","t":1977.5,"v":0.14},{"p":"GDP","s":"m","t":1977.75,"v":0.03},{"p":"GDP","s":"m","t":1978,"v":-0.16},{"p":"GDP","s":"m","t":1978.25,"v":-0.23},{"p":"GDP","s":"m","t":1978.5,"v":-0.22},{"p":"GDP","s":"m","t":1978.75,"v":-0.18},{"p":"GDP","s":"m","t":1979,"v":-0.16},{"p":"GDP","s":"m","t":1979.25,"v":-0.16},{"p":"GDP","s":"m","t":1979.5,"v":-0.11},{"p":"GDP","s":"m","t":1979.75,"v":-0.03},{"p":"GDP","s":"m","t":1980,"v":-0.12},{"p":"GDP","s":"m","t":1980.25,"v":-0.01},{"p":"GDP","s":"m","t":1980.5,"v":-0.09},{"p":"GDP","s":"m","t":1980.75,"v":-0.03},{"p":"GDP","s":"m","t":1981,"v":0.02},{"p":"GDP","s":"m","t":1981.25,"v":0.02},{"p":"GDP","s":"m","t":1981.5,"v":0.08},{"p":"GDP","s":"m","t":1981.75,"v":0.1},{"p":"GDP","s":"m","t":1982,"v":0.17},{"p":"GDP","s":"m","t":1982.25,"v":0.19},{"p":"GDP","s":"m","t":1982.5,"v":0.26},{"p":"GDP","s":"m","t":1982.75,"v":0.35},{"p":"GDP","s":"m","t":1983,"v":0.3},{"p":"GDP","s":"m","t":1983.25,"v":0.3},{"p":"GDP","s":"m","t":1983.5,"v":0.27},{"p":"GDP","s":"m","t":1983.75,"v":0.33},{"p":"GDP","s":"m","t":1984,"v":0.35},{"p":"GDP","s":"m","t":1984.25,"v":0.31},{"p":"GDP","s":"m","t":1984.5,"v":0.35},{"p":"GDP","s":"m","t":1985,"v":0.35},{"p":"GDP","s":"m","t":1985.25,"v":0.4},{"p":"GDP","s":"m","t":1985.5,"v":0.4},{"p":"GDP","s":"m","t":1985.75,"v":0.37},{"p":"GDP","s":"m","t":1986.25,"v":0.37},{"p":"GDP","s":"m","t":1986.5,"v":0.33},{"p":"GDP","s":"m","t":1987,"v":0.27},{"p":"GDP","s":"m","t":1987.25,"v":0.24},{"p":"GDP","s":"m","t":1987.75,"v":0.21},{"p":"GDP","s":"m","t":1988,"v":0.13},{"p":"GDP","s":"m","t":1988.25,"v":0.06},{"p":"GDP","s":"m","t":1988.5,"v":0.13},{"p":"GDP","s":"m","t":1988.75,"v":0.12},{"p":"GDP","s":"m","t":1989.25,"v":0.06},{"p":"GDP","s":"m","t":1989.5,"v":0.12},{"p":"GDP","s":"m","t":1989.75,"v":0.06},{"p":"GDP","s":"m","t":1990,"v":0.03},{"p":"GDP","s":"m","t":1990.5,"v":0.03},{"p":"GDP","s":"m","t":1990.75,"v":0.06},{"p":"GDP","s":"m","t":1991,"v":0.06},{"p":"GDP","s":"m","t":1991.25,"v":0.03},{"p":"GDP","s":"m","t":1991.5,"v":0.08},{"p":"GDP","s":"m","t":1992,"v":0.01},{"p":"GDP","s":"m","t":1992.5,"v":0.03},{"p":"GDP","s":"m","t":1993,"v":0.0},{"p":"GDP","s":"m","t":1994,"v":0.0},{"p":"GDP","s":"m","t":1994.25,"v":0.01},{"p":"GDP","s":"m","t":1995,"v":0.01},{"p":"GDP","s":"m","t":1995.5,"v":0.03},{"p":"GDP","s":"m","t":1996,"v":0.03},{"p":"GDP","s":"m","t":1996.25,"v":0.08},{"p":"GDP","s":"m","t":1996.5,"v":0.05},{"p":"GDP","s":"m","t":1997.25,"v":0.06},{"p":"GDP","s":"m","t":1997.75,"v":0.09},{"p":"GDP","s":"m","t":1998.25,"v":0.08},{"p":"GDP","s":"m","t":1998.5,"v":0.13},{"p":"GDP","s":"m","t":1998.75,"v":0.1},{"p":"GDP","s":"m","t":1999.25,"v":0.12},{"p":"GDP","s":"m","t":1999.75,"v":0.15},{"p":"GDP","s":"m","t":2000,"v":0.11},{"p":"GDP","s":"m","t":2000.75,"v":0.11},{"p":"GDP","s":"m","t":2001,"v":0.09},{"p":"GDP","s":"m","t":2001.25,"v":0.13},{"p":"GDP","s":"m","t":2001.75,"v":0.13},{"p":"GDP","s":"m","t":2002,"v":0.11},{"p":"GDP","s":"m","t":2002.5,"v":0.15},{"p":"GDP","s":"m","t":2002.75,"v":0.12},{"p":"GDP","s":"m","t":2003,"v":0.15},{"p":"GDP","s":"m","t":2003.25,"v":0.11},{"p":"GDP","s":"m","t":2003.5,"v":0.13},{"p":"GDP","s":"m","t":2003.75,"v":0.09},{"p":"GDP","s":"m","t":2004.5,"v":0.09},{"p":"GDP","s":"m","t":2004.75,"v":0.08},{"p":"GDP","s":"m","t":2005,"v":0.15},{"p":"GDP","s":"m","t":2005.25,"v":0.12},{"p":"GDP","s":"m","t":2005.5,"v":0.12},{"p":"GDP","s":"m","t":2005.75,"v":0.16},{"p":"GDP","s":"m","t":2006.1,"v":0.15},
{"p":"GDP","s":"l","t":1970,"v":-0.22},{"p":"GDP","s":"l","t":1970.25,"v":-0.27},{"p":"GDP","s":"l","t":1970.5,"v":-0.24},{"p":"GDP","s":"l","t":1971,"v":-0.33},{"p":"GDP","s":"l","t":1971.5,"v":-0.4},{"p":"GDP","s":"l","t":1971.75,"v":-0.33},{"p":"GDP","s":"l","t":1972,"v":-0.35},{"p":"GDP","s":"l","t":1972.25,"v":-0.34},{"p":"GDP","s":"l","t":1972.75,"v":-0.42},{"p":"GDP","s":"l","t":1973,"v":-0.42},{"p":"GDP","s":"l","t":1973.25,"v":-0.47},{"p":"GDP","s":"l","t":1973.5,"v":-0.38},{"p":"GDP","s":"l","t":1973.75,"v":-0.38},{"p":"GDP","s":"l","t":1974,"v":-0.31},{"p":"GDP","s":"l","t":1974.25,"v":-0.52},{"p":"GDP","s":"l","t":1974.5,"v":-0.52},{"p":"GDP","s":"l","t":1974.75,"v":-0.59},{"p":"GDP","s":"l","t":1975,"v":-0.6},{"p":"GDP","s":"l","t":1975.25,"v":-0.6},{"p":"GDP","s":"l","t":1975.5,"v":-0.58},{"p":"GDP","s":"l","t":1975.75,"v":-0.46},{"p":"GDP","s":"l","t":1976,"v":-0.5},{"p":"GDP","s":"l","t":1976.25,"v":-0.41},{"p":"GDP","s":"l","t":1976.5,"v":-0.39},{"p":"GDP","s":"l","t":1976.75,"v":-0.42},{"p":"GDP","s":"l","t":1977,"v":-0.36},{"p":"GDP","s":"l","t":1977.25,"v":-0.43},{"p":"GDP","s":"l","t":1977.5,"v":-0.43},{"p":"GDP","s":"l","t":1977.75,"v":-0.47},{"p":"GDP","s":"l","t":1978,"v":-0.7},{"p":"GDP","s":"l","t":1978.25,"v":-0.81},{"p":"GDP","s":"l","t":1978.5,"v":-0.84},{"p":"GDP","s":"l","t":1978.75,"v":-0.8},{"p":"GDP","s":"l","t":1979,"v":-0.73},{"p":"GDP","s":"l","t":1979.25,"v":-0.67},{"p":"GDP","s":"l","t":1979.5,"v":-0.68},{"p":"GDP","s":"l","t":1979.75,"v":-0.59},{"p":"GDP","s":"l","t":1980,"v":-0.62},{"p":"GDP","s":"l","t":1980.25,"v":-0.56},{"p":"GDP","s":"l","t":1980.5,"v":-0.62},{"p":"GDP","s":"l","t":1980.75,"v":-0.47},{"p":"GDP","s":"l","t":1981,"v":-0.53},{"p":"GDP","s":"l","t":1981.25,"v":-0.49},{"p":"GDP","s":"l","t":1981.5,"v":-0.44},{"p":"GDP","s":"l","t":1981.75,"v":-0.34},{"p":"GDP","s":"l","t":1982,"v":-0.39},{"p":"GDP","s":"l","t":1982.25,"v":-0.23},{"p":"GDP","s":"l","t":1982.5,"v":-0.14},{"p":"GDP","s":"l","t":1983,"v":-0.13},{"p":"GDP","s":"l","t":1983.25,"v":-0.21},{"p":"GDP","s":"l","t":1983.5,"v":-0.23},{"p":"GDP","s":"l","t":1983.75,"v":-0.19},{"p":"GDP","s":"l","t":1984,"v":-0.1},{"p":"GDP","s":"l","t":1984.25,"v":-0.1},{"p":"GDP","s":"l","t":1984.5,"v":-0.07},{"p":"GDP","s":"l","t":1984.75,"v":-0.08},{"p":"GDP","s":"l","t":1985,"v":-0.02},{"p":"GDP","s":"l","t":1985.5,"v":-0.08},{"p":"GDP","s":"l","t":1986,"v":-0.04},{"p":"GDP","s":"l","t":1986.25,"v":-0.08},{"p":"GDP","s":"l","t":1986.5,"v":-0.1},{"p":"GDP","s":"l","t":1986.75,"v":-0.17},{"p":"GDP","s":"l","t":1987,"v":-0.21},{"p":"GDP","s":"l","t":1987.25,"v":-0.24},{"p":"GDP","s":"l","t":1987.5,"v":-0.24},{"p":"GDP","s":"l","t":1987.75,"v":-0.18},{"p":"GDP","s":"l","t":1988,"v":-0.28},{"p":"GDP","s":"l","t":1988.25,"v":-0.3},{"p":"GDP","s":"l","t":1988.5,"v":-0.27},{"p":"GDP","s":"l","t":1988.75,"v":-0.26},{"p":"GDP","s":"l","t":1989.25,"v":-0.28},{"p":"GDP","s":"l","t":1989.5,"v":-0.3},{"p":"GDP","s":"l","t":1989.75,"v":-0.28},{"p":"GDP","s":"l","t":1990,"v":-0.33},{"p":"GDP","s":"l","t":1990.25,"v":-0.35},{"p":"GDP","s":"l","t":1990.5,"v":-0.3},{"p":"GDP","s":"l","t":1991,"v":-0.31},{"p":"GDP","s":"l","t":1991.5,"v":-0.26},{"p":"GDP","s":"l","t":1991.75,"v":-0.28},{"p":"GDP","s":"l","t":1992,"v":-0.27},{"p":"GDP","s":"l","t":1992.5,"v":-0.2},{"p":"GDP","s":"l","t":1992.75,"v":-0.24},{"p":"GDP","s":"l","t":1993.25,"v":-0.23},{"p":"GDP","s":"l","t":1993.75,"v":-0.22},{"p":"GDP","s":"l","t":1994,"v":-0.26},{"p":"GDP","s":"l","t":1994.25,"v":-0.2},{"p":"GDP","s":"l","t":1994.75,"v":-0.23},{"p":"GDP","s":"l","t":1995,"v":-0.2},{"p":"GDP","s":"l","t":1995.5,"v":-0.2},{"p":"GDP","s":"l","t":1996,"v":-0.17},{"p":"GDP","s":"l","t":1996.5,"v":-0.16},{"p":"GDP","s":"l","t":1997.25,"v":-0.17},{"p":"GDP","s":"l","t":1998,"v":-0.14},{"p":"GDP","s":"l","t":1998.5,"v":-0.14},{"p":"GDP","s":"l","t":1998.75,"v":-0.18},{"p":"GDP","s":"l","t":1999.25,"v":-0.17},{"p":"GDP","s":"l","t":1999.75,"v":-0.11},{"p":"GDP","s":"l","t":2000,"v":-0.17},{"p":"GDP","s":"l","t":2000.5,"v":-0.2},{"p":"GDP","s":"l","t":2001,"v":-0.17},{"p":"GDP","s":"l","t":2001.5,"v":-0.11},{"p":"GDP","s":"l","t":2002,"v":-0.12},{"p":"GDP","s":"l","t":2002.25,"v":-0.15},{"p":"GDP","s":"l","t":2003,"v":-0.14},{"p":"GDP","s":"l","t":2003.5,"v":-0.11},{"p":"GDP","s":"l","t":2003.75,"v":-0.17},{"p":"GDP","s":"l","t":2004.5,"v":-0.16},{"p":"GDP","s":"l","t":2004.75,"v":-0.17},{"p":"GDP","s":"l","t":2005,"v":-0.14},{"p":"GDP","s":"l","t":2005.75,"v":-0.14},{"p":"GDP","s":"l","t":2006.1,"v":-0.15},
{"p":"CPI","s":"h","t":1970,"v":0.03},{"p":"CPI","s":"h","t":1970.25,"v":0.1},{"p":"CPI","s":"h","t":1970.5,"v":0.06},{"p":"CPI","s":"h","t":1970.75,"v":-0.02},{"p":"CPI","s":"h","t":1971,"v":0.04},{"p":"CPI","s":"h","t":1971.5,"v":0.04},{"p":"CPI","s":"h","t":1972,"v":0.04},{"p":"CPI","s":"h","t":1972.25,"v":-0.01},{"p":"CPI","s":"h","t":1972.5,"v":0.07},{"p":"CPI","s":"h","t":1972.75,"v":0.07},{"p":"CPI","s":"h","t":1973,"v":0.08},{"p":"CPI","s":"h","t":1973.25,"v":0.18},{"p":"CPI","s":"h","t":1973.5,"v":0.19},{"p":"CPI","s":"h","t":1973.75,"v":0.23},{"p":"CPI","s":"h","t":1974,"v":0.21},{"p":"CPI","s":"h","t":1974.25,"v":0.23},{"p":"CPI","s":"h","t":1974.5,"v":0.17},{"p":"CPI","s":"h","t":1974.75,"v":0.05},{"p":"CPI","s":"h","t":1975,"v":0.03},{"p":"CPI","s":"h","t":1975.25,"v":0.0},{"p":"CPI","s":"h","t":1975.5,"v":-0.08},{"p":"CPI","s":"h","t":1975.75,"v":0.05},{"p":"CPI","s":"h","t":1976,"v":0.05},{"p":"CPI","s":"h","t":1976.25,"v":0.13},{"p":"CPI","s":"h","t":1976.5,"v":0.13},{"p":"CPI","s":"h","t":1976.75,"v":0.16},{"p":"CPI","s":"h","t":1977,"v":0.16},{"p":"CPI","s":"h","t":1977.25,"v":0.19},{"p":"CPI","s":"h","t":1977.75,"v":0.2},{"p":"CPI","s":"h","t":1978,"v":0.06},{"p":"CPI","s":"h","t":1978.25,"v":0.06},{"p":"CPI","s":"h","t":1978.5,"v":0.01},{"p":"CPI","s":"h","t":1978.75,"v":0.03},{"p":"CPI","s":"h","t":1979,"v":0.15},{"p":"CPI","s":"h","t":1979.25,"v":0.13},{"p":"CPI","s":"h","t":1979.75,"v":0.27},{"p":"CPI","s":"h","t":1980,"v":0.27},{"p":"CPI","s":"h","t":1980.5,"v":0.31},{"p":"CPI","s":"h","t":1980.75,"v":0.42},{"p":"CPI","s":"h","t":1981,"v":0.39},{"p":"CPI","s":"h","t":1981.25,"v":0.48},{"p":"CPI","s":"h","t":1981.5,"v":0.44},{"p":"CPI","s":"h","t":1982,"v":0.44},{"p":"CPI","s":"h","t":1982.25,"v":0.31},{"p":"CPI","s":"h","t":1982.5,"v":0.24},{"p":"CPI","s":"h","t":1982.75,"v":0.25},{"p":"CPI","s":"h","t":1983,"v":0.14},{"p":"CPI","s":"h","t":1983.25,"v":0.11},{"p":"CPI","s":"h","t":1983.5,"v":0.03},{"p":"CPI","s":"h","t":1983.75,"v":0.07},{"p":"CPI","s":"h","t":1984,"v":0.1},{"p":"CPI","s":"h","t":1984.25,"v":0.0},{"p":"CPI","s":"h","t":1984.5,"v":0.01},{"p":"CPI","s":"h","t":1984.75,"v":0.05},{"p":"CPI","s":"h","t":1985.25,"v":0.05},{"p":"CPI","s":"h","t":1985.5,"v":-0.01},{"p":"CPI","s":"h","t":1985.75,"v":-0.02},{"p":"CPI","s":"h","t":1986,"v":0.02},{"p":"CPI","s":"h","t":1986.5,"v":0.03},{"p":"CPI","s":"h","t":1986.75,"v":0.0},{"p":"CPI","s":"h","t":1987,"v":-0.07},{"p":"CPI","s":"h","t":1987.25,"v":0.0},{"p":"CPI","s":"h","t":1987.5,"v":0.0},{"p":"CPI","s":"h","t":1987.75,"v":0.03},{"p":"CPI","s":"h","t":1988,"v":0.05},{"p":"CPI","s":"h","t":1988.5,"v":-0.03},{"p":"CPI","s":"h","t":1988.75,"v":-0.03},{"p":"CPI","s":"h","t":1989,"v":0.0},{"p":"CPI","s":"h","t":1989.5,"v":0.05},{"p":"CPI","s":"h","t":1990,"v":0.07},{"p":"CPI","s":"h","t":1990.25,"v":0.13},{"p":"CPI","s":"h","t":1990.5,"v":0.11},{"p":"CPI","s":"h","t":1991.5,"v":0.11},{"p":"CPI","s":"h","t":1991.75,"v":0.13},{"p":"CPI","s":"h","t":1992.25,"v":0.13},{"p":"CPI","s":"h","t":1992.5,"v":0.11},{"p":"CPI","s":"h","t":1992.75,"v":0.14},{"p":"CPI","s":"h","t":1993,"v":0.09},{"p":"CPI","s":"h","t":1993.5,"v":0.09},{"p":"CPI","s":"h","t":1994,"v":0.11},{"p":"CPI","s":"h","t":1994.5,"v":0.11},{"p":"CPI","s":"h","t":1995,"v":0.13},{"p":"CPI","s":"h","t":1995.5,"v":0.16},{"p":"CPI","s":"h","t":1996,"v":0.13},{"p":"CPI","s":"h","t":1996.25,"v":0.17},{"p":"CPI","s":"h","t":1996.5,"v":0.13},{"p":"CPI","s":"h","t":1996.75,"v":0.18},{"p":"CPI","s":"h","t":1997,"v":0.22},{"p":"CPI","s":"h","t":1997.25,"v":0.19},{"p":"CPI","s":"h","t":1997.5,"v":0.2},{"p":"CPI","s":"h","t":1997.75,"v":0.17},{"p":"CPI","s":"h","t":1998.25,"v":0.19},{"p":"CPI","s":"h","t":1998.75,"v":0.2},{"p":"CPI","s":"h","t":1999,"v":0.23},{"p":"CPI","s":"h","t":1999.25,"v":0.2},{"p":"CPI","s":"h","t":1999.5,"v":0.25},{"p":"CPI","s":"h","t":1999.75,"v":0.27},{"p":"CPI","s":"h","t":2000.25,"v":0.21},{"p":"CPI","s":"h","t":2000.75,"v":0.22},{"p":"CPI","s":"h","t":2001.25,"v":0.24},{"p":"CPI","s":"h","t":2001.5,"v":0.28},{"p":"CPI","s":"h","t":2001.75,"v":0.26},{"p":"CPI","s":"h","t":2002,"v":0.3},{"p":"CPI","s":"h","t":2002.5,"v":0.28},{"p":"CPI","s":"h","t":2003,"v":0.3},{"p":"CPI","s":"h","t":2003.25,"v":0.27},{"p":"CPI","s":"h","t":2003.5,"v":0.32},{"p":"CPI","s":"h","t":2004,"v":0.31},{"p":"CPI","s":"h","t":2004.25,"v":0.28},{"p":"CPI","s":"h","t":2004.5,"v":0.3},{"p":"CPI","s":"h","t":2004.75,"v":0.27},{"p":"CPI","s":"h","t":2005,"v":0.27},{"p":"CPI","s":"h","t":2005.25,"v":0.31},{"p":"CPI","s":"h","t":2005.5,"v":0.27},{"p":"CPI","s":"h","t":2006.1,"v":0.29},
{"p":"CPI","s":"m","t":1970,"v":-0.31},{"p":"CPI","s":"m","t":1970.25,"v":-0.23},{"p":"CPI","s":"m","t":1970.75,"v":-0.32},{"p":"CPI","s":"m","t":1971,"v":-0.31},{"p":"CPI","s":"m","t":1971.25,"v":-0.33},{"p":"CPI","s":"m","t":1971.75,"v":-0.33},{"p":"CPI","s":"m","t":1972,"v":-0.33},{"p":"CPI","s":"m","t":1972.25,"v":-0.37},{"p":"CPI","s":"m","t":1972.5,"v":-0.38},{"p":"CPI","s":"m","t":1972.75,"v":-0.33},{"p":"CPI","s":"m","t":1973,"v":-0.33},{"p":"CPI","s":"m","t":1973.25,"v":-0.37},{"p":"CPI","s":"m","t":1973.5,"v":-0.25},{"p":"CPI","s":"m","t":1973.75,"v":-0.2},{"p":"CPI","s":"m","t":1974,"v":-0.22},{"p":"CPI","s":"m","t":1974.25,"v":-0.22},{"p":"CPI","s":"m","t":1974.75,"v":-0.34},{"p":"CPI","s":"m","t":1975,"v":-0.4},{"p":"CPI","s":"m","t":1975.25,"v":-0.4},{"p":"CPI","s":"m","t":1975.5,"v":-0.49},{"p":"CPI","s":"m","t":1975.75,"v":-0.4},{"p":"CPI","s":"m","t":1976,"v":-0.37},{"p":"CPI","s":"m","t":1976.25,"v":-0.28},{"p":"CPI","s":"m","t":1976.5,"v":-0.33},{"p":"CPI","s":"m","t":1976.75,"v":-0.27},{"p":"CPI","s":"m","t":1977,"v":-0.22},{"p":"CPI","s":"m","t":1977.5,"v":-0.27},{"p":"CPI","s":"m","t":1977.75,"v":-0.3},{"p":"CPI","s":"m","t":1978,"v":-0.41},{"p":"CPI","s":"m","t":1978.25,"v":-0.44},{"p":"CPI","s":"m","t":1978.5,"v":-0.45},{"p":"CPI","s":"m","t":1978.75,"v":-0.41},{"p":"CPI","s":"m","t":1979,"v":-0.38},{"p":"CPI","s":"m","t":1979.25,"v":-0.35},{"p":"CPI","s":"m","t":1979.5,"v":-0.28},{"p":"CPI","s":"m","t":1979.75,"v":-0.21},{"p":"CPI","s":"m","t":1980,"v":-0.27},{"p":"CPI","s":"m","t":1980.25,"v":-0.16},{"p":"CPI","s":"m","t":1980.5,"v":-0.18},{"p":"CPI","s":"m","t":1980.75,"v":-0.09},{"p":"CPI","s":"m","t":1981,"v":-0.11},{"p":"CPI","s":"m","t":1981.25,"v":-0.08},{"p":"CPI","s":"m","t":1981.75,"v":-0.04},{"p":"CPI","s":"m","t":1982,"v":-0.09},{"p":"CPI","s":"m","t":1982.25,"v":-0.16},{"p":"CPI","s":"m","t":1982.5,"v":-0.2},{"p":"CPI","s":"m","t":1982.75,"v":-0.19},{"p":"CPI","s":"m","t":1983,"v":-0.34},{"p":"CPI","s":"m","t":1983.5,"v":-0.34},{"p":"CPI","s":"m","t":1984,"v":-0.33},{"p":"CPI","s":"m","t":1984.25,"v":-0.34},{"p":"CPI","s":"m","t":1984.75,"v":-0.34},{"p":"CPI","s":"m","t":1985,"v":-0.33},{"p":"CPI","s":"m","t":1985.25,"v":-0.35},{"p":"CPI","s":"m","t":1985.5,"v":-0.35},{"p":"CPI","s":"m","t":1985.75,"v":-0.39},{"p":"CPI","s":"m","t":1986,"v":-0.36},{"p":"CPI","s":"m","t":1986.5,"v":-0.41},{"p":"CPI","s":"m","t":1986.75,"v":-0.37},{"p":"CPI","s":"m","t":1987,"v":-0.41},{"p":"CPI","s":"m","t":1987.5,"v":-0.36},{"p":"CPI","s":"m","t":1987.75,"v":-0.37},{"p":"CPI","s":"m","t":1988,"v":-0.33},{"p":"CPI","s":"m","t":1988.25,"v":-0.35},{"p":"CPI","s":"m","t":1988.5,"v":-0.32},{"p":"CPI","s":"m","t":1988.75,"v":-0.35},{"p":"CPI","s":"m","t":1989,"v":-0.31},{"p":"CPI","s":"m","t":1989.25,"v":-0.33},{"p":"CPI","s":"m","t":1989.5,"v":-0.28},{"p":"CPI","s":"m","t":1990,"v":-0.23},{"p":"CPI","s":"m","t":1990.5,"v":-0.16},{"p":"CPI","s":"m","t":1990.75,"v":-0.14},{"p":"CPI","s":"m","t":1991,"v":-0.18},{"p":"CPI","s":"m","t":1991.25,"v":-0.13},{"p":"CPI","s":"m","t":1991.75,"v":-0.14},{"p":"CPI","s":"m","t":1992,"v":-0.11},{"p":"CPI","s":"m","t":1992.5,"v":-0.1},{"p":"CPI","s":"m","t":1993,"v":-0.1},{"p":"CPI","s":"m","t":1993.5,"v":-0.08},{"p":"CPI","s":"m","t":1994,"v":-0.07},{"p":"CPI","s":"m","t":1994.5,"v":-0.06},{"p":"CPI","s":"m","t":1995,"v":-0.07},{"p":"CPI","s":"m","t":1995.5,"v":-0.04},{"p":"CPI","s":"m","t":1996,"v":-0.04},{"p":"CPI","s":"m","t":1996.5,"v":-0.07},{"p":"CPI","s":"m","t":1996.75,"v":-0.04},{"p":"CPI","s":"m","t":1997.5,"v":-0.03},{"p":"CPI","s":"m","t":1997.75,"v":-0.05},{"p":"CPI","s":"m","t":1998,"v":-0.03},{"p":"CPI","s":"m","t":1998.5,"v":-0.05},{"p":"CPI","s":"m","t":1999,"v":-0.04},{"p":"CPI","s":"m","t":1999.25,"v":-0.05},{"p":"CPI","s":"m","t":1999.75,"v":-0.01},{"p":"CPI","s":"m","t":2000,"v":-0.03},{"p":"CPI","s":"m","t":2000.5,"v":-0.02},{"p":"CPI","s":"m","t":2000.75,"v":-0.01},{"p":"CPI","s":"m","t":2001.25,"v":-0.04},{"p":"CPI","s":"m","t":2001.5,"v":0.02},{"p":"CPI","s":"m","t":2002,"v":0.04},{"p":"CPI","s":"m","t":2002.5,"v":0.03},{"p":"CPI","s":"m","t":2003,"v":0.01},{"p":"CPI","s":"m","t":2003.25,"v":0.03},{"p":"CPI","s":"m","t":2003.75,"v":0.03},{"p":"CPI","s":"m","t":2004,"v":0.06},{"p":"CPI","s":"m","t":2004.25,"v":0.0},{"p":"CPI","s":"m","t":2004.5,"v":0.01},{"p":"CPI","s":"m","t":2005,"v":0.0},{"p":"CPI","s":"m","t":2006.1,"v":0.0},
{"p":"CPI","s":"l","t":1970,"v":-0.63},{"p":"CPI","s":"l","t":1970.25,"v":-0.61},{"p":"CPI","s":"l","t":1970.5,"v":-0.64},{"p":"CPI","s":"l","t":1970.75,"v":-0.69},{"p":"CPI","s":"l","t":1971.25,"v":-0.69},{"p":"CPI","s":"l","t":1971.5,"v":-0.65},{"p":"CPI","s":"l","t":1971.75,"v":-0.66},{"p":"CPI","s":"l","t":1972,"v":-0.72},{"p":"CPI","s":"l","t":1972.25,"v":-0.67},{"p":"CPI","s":"l","t":1972.5,"v":-0.75},{"p":"CPI","s":"l","t":1973,"v":-0.74},{"p":"CPI","s":"l","t":1973.25,"v":-0.78},{"p":"CPI","s":"l","t":1973.5,"v":-0.75},{"p":"CPI","s":"l","t":1973.75,"v":-0.63},{"p":"CPI","s":"l","t":1974,"v":-0.63},{"p":"CPI","s":"l","t":1974.25,"v":-0.67},{"p":"CPI","s":"l","t":1974.5,"v":-0.67},{"p":"CPI","s":"l","t":1974.75,"v":-0.72},{"p":"CPI","s":"l","t":1975,"v":-0.88},{"p":"CPI","s":"l","t":1975.5,"v":-0.9},{"p":"CPI","s":"l","t":1976,"v":-0.88},{"p":"CPI","s":"l","t":1976.25,"v":-0.77},{"p":"CPI","s":"l","t":1976.5,"v":-0.77},{"p":"CPI","s":"l","t":1976.75,"v":-0.71},{"p":"CPI","s":"l","t":1977,"v":-0.63},{"p":"CPI","s":"l","t":1977.25,"v":-0.63},{"p":"CPI","s":"l","t":1977.5,"v":-0.76},{"p":"CPI","s":"l","t":1977.75,"v":-0.76},{"p":"CPI","s":"l","t":1978,"v":-0.9},{"p":"CPI","s":"l","t":1978.25,"v":-0.97},{"p":"CPI","s":"l","t":1978.5,"v":-0.9},{"p":"CPI","s":"l","t":1978.75,"v":-0.99},{"p":"CPI","s":"l","t":1979,"v":-0.9},{"p":"CPI","s":"l","t":1979.25,"v":-0.8},{"p":"CPI","s":"l","t":1979.5,"v":-0.79},{"p":"CPI","s":"l","t":1979.75,"v":-0.66},{"p":"CPI","s":"l","t":1980,"v":-0.77},{"p":"CPI","s":"l","t":1980.5,"v":-0.67},{"p":"CPI","s":"l","t":1980.75,"v":-0.56},{"p":"CPI","s":"l","t":1981.25,"v":-0.6},{"p":"CPI","s":"l","t":1981.5,"v":-0.58},{"p":"CPI","s":"l","t":1981.75,"v":-0.53},{"p":"CPI","s":"l","t":1982,"v":-0.58},{"p":"CPI","s":"l","t":1982.25,"v":-0.59},{"p":"CPI","s":"l","t":1982.5,"v":-0.69},{"p":"CPI","s":"l","t":1982.75,"v":-0.64},{"p":"CPI","s":"l","t":1983,"v":-0.77},{"p":"CPI","s":"l","t":1983.25,"v":-0.81},{"p":"CPI","s":"l","t":1983.5,"v":-0.81},{"p":"CPI","s":"l","t":1983.75,"v":-0.76},{"p":"CPI","s":"l","t":1984,"v":-0.74},{"p":"CPI","s":"l","t":1984.75,"v":-0.74},{"p":"CPI","s":"l","t":1985,"v":-0.77},{"p":"CPI","s":"l","t":1985.25,"v":-0.83},{"p":"CPI","s":"l","t":1985.5,"v":-0.76},{"p":"CPI","s":"l","t":1986,"v":-0.77},{"p":"CPI","s":"l","t":1986.25,"v":-0.81},{"p":"CPI","s":"l","t":1986.5,"v":-0.79},{"p":"CPI","s":"l","t":1986.75,"v":-0.81},{"p":"CPI","s":"l","t":1987,"v":-0.81},{"p":"CPI","s":"l","t":1987.25,"v":-0.77},{"p":"CPI","s":"l","t":1987.5,"v":-0.75},{"p":"CPI","s":"l","t":1988,"v":-0.72},{"p":"CPI","s":"l","t":1988.25,"v":-0.76},{"p":"CPI","s":"l","t":1988.5,"v":-0.69},{"p":"CPI","s":"l","t":1988.75,"v":-0.71},{"p":"CPI","s":"l","t":1989,"v":-0.66},{"p":"CPI","s":"l","t":1989.25,"v":-0.69},{"p":"CPI","s":"l","t":1989.75,"v":-0.6},{"p":"CPI","s":"l","t":1990,"v":-0.54},{"p":"CPI","s":"l","t":1990.25,"v":-0.53},{"p":"CPI","s":"l","t":1990.5,"v":-0.53},{"p":"CPI","s":"l","t":1990.75,"v":-0.47},{"p":"CPI","s":"l","t":1991,"v":-0.48},{"p":"CPI","s":"l","t":1991.25,"v":-0.44},{"p":"CPI","s":"l","t":1991.5,"v":-0.44},{"p":"CPI","s":"l","t":1991.75,"v":-0.47},{"p":"CPI","s":"l","t":1992,"v":-0.37},{"p":"CPI","s":"l","t":1992.25,"v":-0.37},{"p":"CPI","s":"l","t":1992.5,"v":-0.35},{"p":"CPI","s":"l","t":1993,"v":-0.34},{"p":"CPI","s":"l","t":1993.25,"v":-0.33},{"p":"CPI","s":"l","t":1993.5,"v":-0.35},{"p":"CPI","s":"l","t":1993.75,"v":-0.3},{"p":"CPI","s":"l","t":1994,"v":-0.28},{"p":"CPI","s":"l","t":1994.5,"v":-0.28},{"p":"CPI","s":"l","t":1995,"v":-0.3},{"p":"CPI","s":"l","t":1995.5,"v":-0.22},{"p":"CPI","s":"l","t":1996,"v":-0.26},{"p":"CPI","s":"l","t":1996.25,"v":-0.25},{"p":"CPI","s":"l","t":1996.75,"v":-0.25},{"p":"CPI","s":"l","t":1997.25,"v":-0.25},{"p":"CPI","s":"l","t":1997.5,"v":-0.29},{"p":"CPI","s":"l","t":1997.75,"v":-0.29},{"p":"CPI","s":"l","t":1998,"v":-0.22},{"p":"CPI","s":"l","t":1998.25,"v":-0.27},{"p":"CPI","s":"l","t":1998.5,"v":-0.25},{"p":"CPI","s":"l","t":1998.75,"v":-0.31},{"p":"CPI","s":"l","t":1999.25,"v":-0.28},{"p":"CPI","s":"l","t":1999.5,"v":-0.31},{"p":"CPI","s":"l","t":1999.75,"v":-0.25},{"p":"CPI","s":"l","t":2000.25,"v":-0.28},{"p":"CPI","s":"l","t":2000.75,"v":-0.25},{"p":"CPI","s":"l","t":2001.25,"v":-0.28},{"p":"CPI","s":"l","t":2001.5,"v":-0.2},{"p":"CPI","s":"l","t":2002,"v":-0.21},{"p":"CPI","s":"l","t":2002.5,"v":-0.22},{"p":"CPI","s":"l","t":2003,"v":-0.21},{"p":"CPI","s":"l","t":2003.25,"v":-0.2},{"p":"CPI","s":"l","t":2003.75,"v":-0.2},{"p":"CPI","s":"l","t":2004.25,"v":-0.2},{"p":"CPI","s":"l","t":2004.5,"v":-0.26},{"p":"CPI","s":"l","t":2004.75,"v":-0.25},{"p":"CPI","s":"l","t":2005,"v":-0.28},{"p":"CPI","s":"l","t":2005.25,"v":-0.25},{"p":"CPI","s":"l","t":2005.5,"v":-0.23},{"p":"CPI","s":"l","t":2005.75,"v":-0.3},{"p":"CPI","s":"l","t":2006.1,"v":-0.29}
]},
"vconcat":[
{"title":"Effect of oil supply shock on QO after 4 quarters","width":962,"height":117,
 "transform":[{"filter":"datum.p === 'QO'"}],
 "layer":[
  {"transform":[{"filter":"datum.s !== 'm'"}],"mark":{"type":"line","color":"#ff0000","strokeWidth":1,"clip":true},
   "encoding":{
    "x":{"field":"t","type":"quantitative","scale":{"domain":[1970,2006.1],"nice":false,"zero":false},"axis":{"orient":"bottom","title":null,"values":[1970,1971,1972,1973,1974,1975,1976,1977,1978,1979,1980,1981,1982,1983,1984,1985,1986,1987,1988,1989,1990,1991,1992,1993,1994,1995,1996,1997,1998,1999,2000,2001,2002,2003,2004,2005,2006],"labelExpr":"datum.value % 5 === 0 ? '' + datum.value : ''","tickSize":{"condition":{"test":"datum.value % 5 === 0","value":-8},"value":-4},"labelPadding":10}},
    "y":{"field":"v","type":"quantitative","scale":{"domain":[-5.5,0],"nice":false,"zero":false},"axis":{"orient":"left","title":"percent","titlePadding":8,"values":[0,-0.5,-1,-1.5,-2,-2.5,-3,-3.5,-4,-4.5,-5,-5.5],"labelExpr":"datum.value % 1 === 0 ? '' + datum.value : ''","tickSize":{"condition":{"test":"datum.value % 1 === 0","value":-8},"value":-4},"labelPadding":11.5}},
    "detail":{"field":"s"}}},
  {"transform":[{"filter":"datum.s === 'm'"}],"mark":{"type":"line","color":"#0000ff","strokeWidth":2.5,"clip":true},
   "encoding":{
    "x":{"field":"t","type":"quantitative","axis":{"orient":"top","title":null,"labels":false,"values":[1970,1971,1972,1973,1974,1975,1976,1977,1978,1979,1980,1981,1982,1983,1984,1985,1986,1987,1988,1989,1990,1991,1992,1993,1994,1995,1996,1997,1998,1999,2000,2001,2002,2003,2004,2005,2006],"tickSize":{"condition":{"test":"datum.value % 5 === 0","value":-8},"value":-4}}},
    "y":{"field":"v","type":"quantitative","axis":{"orient":"right","title":null,"labels":false,"values":[0,-0.5,-1,-1.5,-2,-2.5,-3,-3.5,-4,-4.5,-5,-5.5],"tickSize":{"condition":{"test":"datum.value % 1 === 0","value":-8},"value":-4}}}}}
 ],
 "resolve":{"axis":{"x":"independent","y":"independent"}}},
{"title":"Effect of oil supply shock on PO after 4 quarters","width":962,"height":117,
 "transform":[{"filter":"datum.p === 'PO'"}],
 "layer":[
  {"transform":[{"filter":"datum.s !== 'm'"}],"mark":{"type":"line","color":"#ff0000","strokeWidth":1,"clip":true},
   "encoding":{
    "x":{"field":"t","type":"quantitative","scale":{"domain":[1970,2006.1],"nice":false,"zero":false},"axis":{"orient":"bottom","title":null,"values":[1970,1971,1972,1973,1974,1975,1976,1977,1978,1979,1980,1981,1982,1983,1984,1985,1986,1987,1988,1989,1990,1991,1992,1993,1994,1995,1996,1997,1998,1999,2000,2001,2002,2003,2004,2005,2006],"labelExpr":"datum.value % 5 === 0 ? '' + datum.value : ''","tickSize":{"condition":{"test":"datum.value % 5 === 0","value":-8},"value":-4},"labelPadding":10}},
    "y":{"field":"v","type":"quantitative","scale":{"domain":[-3,3],"nice":false,"zero":false},"axis":{"orient":"left","title":"percent","titlePadding":8,"values":[-3,-2,-1,0,1,2,3],"labelExpr":"datum.value % 2 === 0 ? '' + datum.value : ''","tickSize":{"condition":{"test":"datum.value % 2 === 0","value":-8},"value":-4},"labelPadding":11.5}},
    "detail":{"field":"s"}}},
  {"transform":[{"filter":"datum.s === 'm'"}],"mark":{"type":"line","color":"#0000ff","strokeWidth":2.5,"clip":true},
   "encoding":{
    "x":{"field":"t","type":"quantitative","axis":{"orient":"top","title":null,"labels":false,"values":[1970,1971,1972,1973,1974,1975,1976,1977,1978,1979,1980,1981,1982,1983,1984,1985,1986,1987,1988,1989,1990,1991,1992,1993,1994,1995,1996,1997,1998,1999,2000,2001,2002,2003,2004,2005,2006],"tickSize":{"condition":{"test":"datum.value % 5 === 0","value":-8},"value":-4}}},
    "y":{"field":"v","type":"quantitative","axis":{"orient":"right","title":null,"labels":false,"values":[-3,-2,-1,0,1,2,3],"tickSize":{"condition":{"test":"datum.value % 2 === 0","value":-8},"value":-4}}}}},
  {"data":{"values":[{"z":0}]},"mark":{"type":"rule","color":"black","strokeWidth":1,"strokeDash":[6,4]},
   "encoding":{"y":{"field":"z","type":"quantitative","axis":null}}}
 ],
 "resolve":{"axis":{"x":"independent","y":"independent"}}},
{"title":"Effect of oil supply shock on GDP after 4 quarters","width":962,"height":115,
 "transform":[{"filter":"datum.p === 'GDP'"}],
 "layer":[
  {"transform":[{"filter":"datum.s !== 'm'"}],"mark":{"type":"line","color":"#ff0000","strokeWidth":1,"clip":true},
   "encoding":{
    "x":{"field":"t","type":"quantitative","scale":{"domain":[1970,2006.1],"nice":false,"zero":false},"axis":{"orient":"bottom","title":null,"values":[1970,1971,1972,1973,1974,1975,1976,1977,1978,1979,1980,1981,1982,1983,1984,1985,1986,1987,1988,1989,1990,1991,1992,1993,1994,1995,1996,1997,1998,1999,2000,2001,2002,2003,2004,2005,2006],"labelExpr":"datum.value % 5 === 0 ? '' + datum.value : ''","tickSize":{"condition":{"test":"datum.value % 5 === 0","value":-8},"value":-4},"labelPadding":10}},
    "y":{"field":"v","type":"quantitative","scale":{"domain":[-1,1],"nice":false,"zero":false},"axis":{"orient":"left","title":"percent","titlePadding":8,"values":[-1,-0.75,-0.5,-0.25,0,0.25,0.5,0.75,1],"labelExpr":"datum.value % 0.5 === 0 ? '' + datum.value : ''","tickSize":{"condition":{"test":"datum.value % 0.5 === 0","value":-8},"value":-4},"labelPadding":11.5}},
    "detail":{"field":"s"}}},
  {"transform":[{"filter":"datum.s === 'm'"}],"mark":{"type":"line","color":"#0000ff","strokeWidth":2.5,"clip":true},
   "encoding":{
    "x":{"field":"t","type":"quantitative","axis":{"orient":"top","title":null,"labels":false,"values":[1970,1971,1972,1973,1974,1975,1976,1977,1978,1979,1980,1981,1982,1983,1984,1985,1986,1987,1988,1989,1990,1991,1992,1993,1994,1995,1996,1997,1998,1999,2000,2001,2002,2003,2004,2005,2006],"tickSize":{"condition":{"test":"datum.value % 5 === 0","value":-8},"value":-4}}},
    "y":{"field":"v","type":"quantitative","axis":{"orient":"right","title":null,"labels":false,"values":[-1,-0.75,-0.5,-0.25,0,0.25,0.5,0.75,1],"tickSize":{"condition":{"test":"datum.value % 0.5 === 0","value":-8},"value":-4}}}}},
  {"data":{"values":[{"z":0}]},"mark":{"type":"rule","color":"black","strokeWidth":1,"strokeDash":[6,4]},
   "encoding":{"y":{"field":"z","type":"quantitative","axis":null}}}
 ],
 "resolve":{"axis":{"x":"independent","y":"independent"}}},
{"title":"Effect of oil supply shock on CPI after 4 quarters","width":962,"height":117,
 "transform":[{"filter":"datum.p === 'CPI'"}],
 "layer":[
  {"transform":[{"filter":"datum.s !== 'm'"}],"mark":{"type":"line","color":"#ff0000","strokeWidth":1,"clip":true},
   "encoding":{
    "x":{"field":"t","type":"quantitative","scale":{"domain":[1970,2006.1],"nice":false,"zero":false},"axis":{"orient":"bottom","title":"time","titlePadding":1,"values":[1970,1971,1972,1973,1974,1975,1976,1977,1978,1979,1980,1981,1982,1983,1984,1985,1986,1987,1988,1989,1990,1991,1992,1993,1994,1995,1996,1997,1998,1999,2000,2001,2002,2003,2004,2005,2006],"labelExpr":"datum.value % 5 === 0 ? '' + datum.value : ''","tickSize":{"condition":{"test":"datum.value % 5 === 0","value":-8},"value":-4},"labelPadding":10}},
    "y":{"field":"v","type":"quantitative","scale":{"domain":[-1,0.5],"nice":false,"zero":false},"axis":{"orient":"left","title":"percent","titlePadding":8,"values":[-1,-0.75,-0.5,-0.25,0,0.25,0.5],"labelExpr":"datum.value % 0.5 === 0 ? '' + datum.value : ''","tickSize":{"condition":{"test":"datum.value % 0.5 === 0","value":-8},"value":-4},"labelPadding":11.5}},
    "detail":{"field":"s"}}},
  {"transform":[{"filter":"datum.s === 'm'"}],"mark":{"type":"line","color":"#0000ff","strokeWidth":2.5,"clip":true},
   "encoding":{
    "x":{"field":"t","type":"quantitative","axis":{"orient":"top","title":null,"labels":false,"values":[1970,1971,1972,1973,1974,1975,1976,1977,1978,1979,1980,1981,1982,1983,1984,1985,1986,1987,1988,1989,1990,1991,1992,1993,1994,1995,1996,1997,1998,1999,2000,2001,2002,2003,2004,2005,2006],"tickSize":{"condition":{"test":"datum.value % 5 === 0","value":-8},"value":-4}}},
    "y":{"field":"v","type":"quantitative","axis":{"orient":"right","title":null,"labels":false,"values":[-1,-0.75,-0.5,-0.25,0,0.25,0.5],"tickSize":{"condition":{"test":"datum.value % 0.5 === 0","value":-8},"value":-4}}}}},
  {"data":{"values":[{"z":0}]},"mark":{"type":"rule","color":"black","strokeWidth":1,"strokeDash":[6,4]},
   "encoding":{"y":{"field":"z","type":"quantitative","axis":null}}}
 ],
 "resolve":{"axis":{"x":"independent","y":"independent"}}}
]
}
